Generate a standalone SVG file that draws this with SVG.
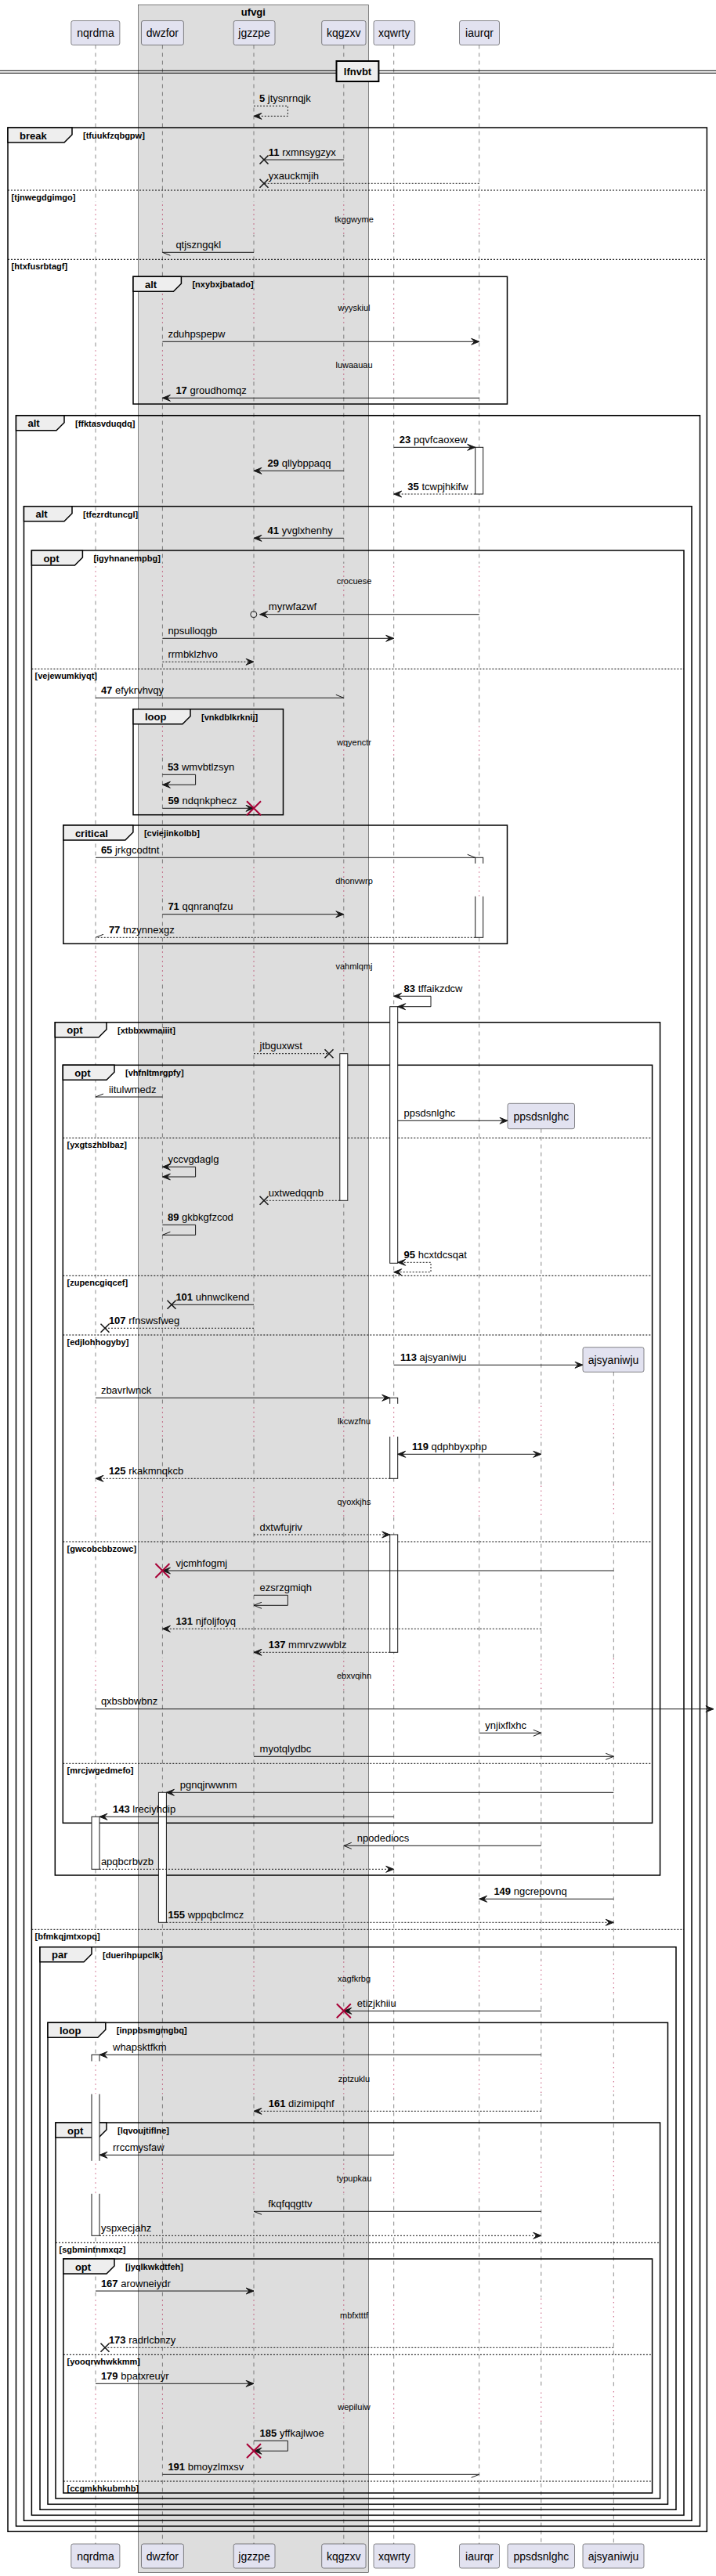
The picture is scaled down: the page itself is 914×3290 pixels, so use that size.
<svg xmlns="http://www.w3.org/2000/svg" xmlns:xlink="http://www.w3.org/1999/xlink" width="914" height="3290" viewBox="0 0 914 3290">
<style>
text{font-family:"Liberation Sans",Arial,sans-serif;fill:#000}
.p{font-size:14px;text-anchor:middle}
.t{font-size:13px}
.t tspan{font-weight:bold}
.dl{font-size:11px;text-anchor:middle}
.tl{font-size:13px;font-weight:bold}
.tc{font-size:11px;font-weight:bold}
.box{fill:#E2E2F0;stroke:#181818;stroke-width:0.5}
.ll{stroke:#181818;stroke-width:0.5;stroke-dasharray:5,5}
.lld{stroke:#A80036;stroke-width:1;stroke-dasharray:1,5}
.fr{fill:none;stroke:#000;stroke-width:1.5}
.tab{fill:#EEEEEE;stroke:#000;stroke-width:1.5}
.el{stroke:#000;stroke-width:1;stroke-dasharray:2,2}
.act{fill:#fff;stroke:#181818;stroke-width:1}
.s{fill:none;stroke:#181818;stroke-width:1}
.d{stroke-dasharray:2,2}
.x{stroke:#181818;stroke-width:1.6}
.rx{stroke:#A80036;stroke-width:2}
</style>
<defs>
<g id="bands">
<rect x="0" y="257.8" width="914" height="42"/>
<rect x="0" y="370.8" width="914" height="42"/>
<rect x="0" y="443.5" width="914" height="42"/>
<rect x="0" y="719.8" width="914" height="42"/>
<rect x="0" y="925.2" width="914" height="42"/>
<rect x="0" y="1102.8" width="914" height="42"/>
<rect x="0" y="1211.8" width="914" height="42"/>
<rect x="0" y="1792.8" width="914" height="42"/>
<rect x="0" y="1895.8" width="914" height="42"/>
<rect x="0" y="2117.8" width="914" height="42"/>
<rect x="0" y="2504.2" width="914" height="42"/>
<rect x="0" y="2632.5" width="914" height="42"/>
<rect x="0" y="2759.8" width="914" height="42"/>
<rect x="0" y="2934.2" width="914" height="42"/>
<rect x="0" y="3051.5" width="914" height="42"/>
</g>
<mask id="mN" maskUnits="userSpaceOnUse" x="0" y="0" width="914" height="3290">
<rect x="0" y="0" width="914" height="3290" fill="#fff"/>
<use xlink:href="#bands" href="#bands" fill="#000"/>
</mask>
<mask id="mD" maskUnits="userSpaceOnUse" x="0" y="0" width="914" height="3290">
<use xlink:href="#bands" href="#bands" fill="#fff"/>
</mask>
<marker id="aR" markerUnits="userSpaceOnUse" markerWidth="12" markerHeight="10" refX="10" refY="5" overflow="visible"><path d="M0,1 L10,5 L0,9 L4,5 Z" fill="#181818" stroke="#181818" stroke-width="1" stroke-dasharray="none"/></marker>
<marker id="aL" markerUnits="userSpaceOnUse" markerWidth="12" markerHeight="10" refX="0" refY="5" overflow="visible"><path d="M10,1 L0,5 L10,9 L6,5 Z" fill="#181818" stroke="#181818" stroke-width="1" stroke-dasharray="none"/></marker>
<marker id="oR" markerUnits="userSpaceOnUse" markerWidth="12" markerHeight="10" refX="10" refY="5" overflow="visible"><path d="M0,1 L10,5 L0,9" fill="none" stroke="#181818" stroke-width="1" stroke-dasharray="none"/></marker>
<marker id="oL" markerUnits="userSpaceOnUse" markerWidth="12" markerHeight="10" refX="0" refY="5" overflow="visible"><path d="M10,1 L0,5 L10,9" fill="none" stroke="#181818" stroke-width="1" stroke-dasharray="none"/></marker>
<marker id="huR" markerUnits="userSpaceOnUse" markerWidth="12" markerHeight="10" refX="10" refY="5" overflow="visible"><path d="M0,1 L10,5" fill="none" stroke="#181818" stroke-width="1" stroke-dasharray="none"/></marker>
<marker id="hlR" markerUnits="userSpaceOnUse" markerWidth="12" markerHeight="10" refX="10" refY="5" overflow="visible"><path d="M10,5 L0,9" fill="none" stroke="#181818" stroke-width="1" stroke-dasharray="none"/></marker>
<marker id="huL" markerUnits="userSpaceOnUse" markerWidth="12" markerHeight="10" refX="0" refY="5" overflow="visible"><path d="M0,5 L10,1" fill="none" stroke="#181818" stroke-width="1" stroke-dasharray="none"/></marker>
<marker id="hlL" markerUnits="userSpaceOnUse" markerWidth="12" markerHeight="10" refX="0" refY="5" overflow="visible"><path d="M0,5 L10,9" fill="none" stroke="#181818" stroke-width="1" stroke-dasharray="none"/></marker>
</defs>
<rect width="914" height="3290" fill="#fff"/>

<g id="box-ufvgi">
<rect x="176.4" y="6" width="294.1" height="3279.7" fill="#DDDDDD" stroke="#181818" stroke-width="0.5"/>
<text x="323.4" y="20" class="tl" text-anchor="middle">ufvgi</text>
</g>

<g id="lifelines">
<g mask="url(#mN)">
<line class="ll" x1="122" y1="57.5" x2="122" y2="3249"/>
<line class="ll" x1="207.4" y1="57.5" x2="207.4" y2="3249"/>
<line class="ll" x1="324" y1="57.5" x2="324" y2="3249"/>
<line class="ll" x1="438.8" y1="57.5" x2="438.8" y2="3249"/>
<line class="ll" x1="502.7" y1="57.5" x2="502.7" y2="3249"/>
<line class="ll" x1="611.7" y1="57.5" x2="611.7" y2="3249"/>
<line class="ll" x1="690.8" y1="1441.7" x2="690.8" y2="3249"/>
<line class="ll" x1="783.3" y1="1752.3" x2="783.3" y2="3249"/>
</g>
<g mask="url(#mD)">
<line class="lld" x1="122" y1="57.5" x2="122" y2="3249"/>
<line class="lld" x1="207.4" y1="57.5" x2="207.4" y2="3249"/>
<line class="lld" x1="324" y1="57.5" x2="324" y2="3249"/>
<line class="lld" x1="438.8" y1="57.5" x2="438.8" y2="3249"/>
<line class="lld" x1="502.7" y1="57.5" x2="502.7" y2="3249"/>
<line class="lld" x1="611.7" y1="57.5" x2="611.7" y2="3249"/>
<line class="lld" x1="690.8" y1="1441.7" x2="690.8" y2="3249"/>
<line class="lld" x1="783.3" y1="1752.3" x2="783.3" y2="3249"/>
</g>
</g>

<g id="p-nqrdma"><rect class="box" x="90.8" y="26.5" width="62.1" height="31" rx="2.5"/><text class="p" x="122" y="47">nqrdma</text><rect class="box" x="90.8" y="3249" width="62.1" height="31" rx="2.5"/><text class="p" x="122" y="3269.5">nqrdma</text></g>
<g id="p-dwzfor"><rect class="box" x="180.5" y="26.5" width="53.9" height="31" rx="2.5"/><text class="p" x="207.4" y="47">dwzfor</text><rect class="box" x="180.5" y="3249" width="53.9" height="31" rx="2.5"/><text class="p" x="207.4" y="3269.5">dwzfor</text></g>
<g id="p-jgzzpe"><rect class="box" x="298.2" y="26.5" width="52.8" height="31" rx="2.5"/><text class="p" x="324.6" y="47">jgzzpe</text><rect class="box" x="298.2" y="3249" width="52.8" height="31" rx="2.5"/><text class="p" x="324.6" y="3269.5">jgzzpe</text></g>
<g id="p-kqgzxv"><rect class="box" x="410.7" y="26.5" width="56.3" height="31" rx="2.5"/><text class="p" x="438.8" y="47">kqgzxv</text><rect class="box" x="410.7" y="3249" width="56.3" height="31" rx="2.5"/><text class="p" x="438.8" y="3269.5">kqgzxv</text></g>
<g id="p-xqwrty"><rect class="box" x="477" y="26.5" width="52.7" height="31" rx="2.5"/><text class="p" x="503.3" y="47">xqwrty</text><rect class="box" x="477" y="3249" width="52.7" height="31" rx="2.5"/><text class="p" x="503.3" y="3269.5">xqwrty</text></g>
<g id="p-iaurqr"><rect class="box" x="586.5" y="26.5" width="51" height="31" rx="2.5"/><text class="p" x="612" y="47">iaurqr</text><rect class="box" x="586.5" y="3249" width="51" height="31" rx="2.5"/><text class="p" x="612" y="3269.5">iaurqr</text></g>
<g id="p-ppsdsnlghc"><rect class="box" x="648" y="1409.3" width="85.5" height="32.4" rx="2.5"/><text class="p" x="690.8" y="1430.5">ppsdsnlghc</text><rect class="box" x="648" y="3249" width="85.5" height="31" rx="2.5"/><text class="p" x="690.8" y="3269.5">ppsdsnlghc</text></g>
<g id="p-ajsyaniwju"><rect class="box" x="744" y="1720.7" width="78" height="31.6" rx="2.5"/><text class="p" x="783" y="1741.5">ajsyaniwju</text><rect class="box" x="744" y="3249" width="78" height="31" rx="2.5"/><text class="p" x="783" y="3269.5">ajsyaniwju</text></g>

<g id="divider">
<line x1="0" y1="90.3" x2="914" y2="90.3" stroke="#000" stroke-width="1"/>
<line x1="0" y1="93.3" x2="914" y2="93.3" stroke="#000" stroke-width="1"/>
<rect x="429.5" y="78" width="53.9" height="26" fill="#EEEEEE" stroke="#000" stroke-width="2"/>
<text x="456.5" y="96" class="tl" text-anchor="middle">lfnvbt</text>
</g>

<g id="delays">
<text class="dl" x="452" y="284">tkggwyme</text>
<text class="dl" x="452" y="397">wyyskiul</text>
<text class="dl" x="452" y="470">luwaauau</text>
<text class="dl" x="452" y="746">crocuese</text>
<text class="dl" x="452" y="951.5">wqyenctr</text>
<text class="dl" x="452" y="1129">dhonvwrp</text>
<text class="dl" x="452" y="1238">vahmlqmj</text>
<text class="dl" x="452" y="1819">lkcwzfnu</text>
<text class="dl" x="452" y="1922">qyoxkjhs</text>
<text class="dl" x="452" y="2144">ebxvqihn</text>
<text class="dl" x="452" y="2530.5">xagfkrbg</text>
<text class="dl" x="452" y="2659">zptzuklu</text>
<text class="dl" x="452" y="2786">typupkau</text>
<text class="dl" x="452" y="2960.5">mbfxtttf</text>
<text class="dl" x="452" y="3078">wepiluiw</text>
</g>

<g id="frames">
<rect class="fr" x="10" y="163" width="892.4" height="3070.3"/>
<path class="tab" d="M10,163 H92 V172 L82,182 H10 Z"/>
<text class="tl" x="25" y="177.5">break</text><text class="tc" x="106" y="177">[tfuukfzqbgpw]</text>
<line class="el" x1="10" y1="243" x2="902.4" y2="243"/><text class="tc" x="14.6" y="255.5">[tjnwegdgimgo]</text>
<line class="el" x1="10" y1="331.3" x2="902.4" y2="331.3"/><text class="tc" x="14.6" y="343.5">[htxfusrbtagf]</text>

<rect class="fr" x="170" y="353.3" width="477.5" height="162.7"/>
<path class="tab" d="M170,353.3 H231.4 V362.3 L221.4,372.3 H170 Z"/>
<text class="tl" x="185" y="367.8">alt</text><text class="tc" x="245.4" y="367.3">[nxybxjbatado]</text>

<rect class="fr" x="20.5" y="530.7" width="873" height="2695.6"/>
<path class="tab" d="M20.5,530.7 H82 V539.7 L72,549.7 H20.5 Z"/>
<text class="tl" x="35.5" y="545.2">alt</text><text class="tc" x="96" y="544.7">[ffktasvduqdq]</text>

<rect class="fr" x="30.5" y="646.7" width="852.5" height="2572.6"/>
<path class="tab" d="M30.5,646.7 H92 V655.7 L82,665.7 H30.5 Z"/>
<text class="tl" x="45.5" y="661.2">alt</text><text class="tc" x="106" y="660.7">[tfezrdtuncgl]</text>

<rect class="fr" x="40.4" y="703" width="832.6" height="2509.3"/>
<path class="tab" d="M40.4,703 H105.4 V712 L95.4,722 H40.4 Z"/>
<text class="tl" x="55.4" y="717.5">opt</text><text class="tc" x="119.4" y="717">[igyhnanempbg]</text>
<line class="el" x1="40.4" y1="854.3" x2="873" y2="854.3"/><text class="tc" x="44.5" y="866.8">[vejewumkiyqt]</text>
<line class="el" x1="40.4" y1="2464.3" x2="873" y2="2464.3"/><text class="tc" x="44.5" y="2476.8">[bfmkqjmtxopq]</text>

<rect class="fr" x="170" y="905.7" width="191.5" height="135"/>
<path class="tab" d="M170,905.7 H243 V914.7 L233,924.7 H170 Z"/>
<text class="tl" x="185" y="920.2">loop</text><text class="tc" x="257" y="919.7">[vnkdblkrknij]</text>

<rect class="fr" x="80.9" y="1054" width="566.6" height="151.3"/>
<path class="tab" d="M80.9,1054 H169.9 V1063 L159.9,1073 H80.9 Z"/>
<text class="tl" x="95.9" y="1068.5">critical</text><text class="tc" x="183.9" y="1068">[cviejinkolbb]</text>

<rect class="fr" x="70.3" y="1305.7" width="772.3" height="1089.3"/>
<path class="tab" d="M70.3,1305.7 H136 V1314.7 L126,1324.7 H70.3 Z"/>
<text class="tl" x="85.3" y="1320.2">opt</text><text class="tc" x="150" y="1319.7">[xtbbxwmaiiit]</text>

<rect class="fr" x="80.3" y="1360.3" width="752.3" height="968"/>
<path class="tab" d="M80.3,1360.3 H146 V1369.3 L136,1379.3 H80.3 Z"/>
<text class="tl" x="95.3" y="1374.8">opt</text><text class="tc" x="160" y="1374.3">[vhfnltmrgpfy]</text>
<line class="el" x1="80.3" y1="1453.3" x2="832.6" y2="1453.3"/><text class="tc" x="85.5" y="1465.8">[yxgtszhblbaz]</text>
<line class="el" x1="80.3" y1="1629.3" x2="832.6" y2="1629.3"/><text class="tc" x="85.5" y="1641.8">[zupencgiqcef]</text>
<line class="el" x1="80.3" y1="1705" x2="832.6" y2="1705"/><text class="tc" x="85.5" y="1717.5">[edjlohhogyby]</text>
<line class="el" x1="80.3" y1="1969" x2="832.6" y2="1969"/><text class="tc" x="85.5" y="1981.5">[gwcobcbbzowc]</text>
<line class="el" x1="80.3" y1="2252.3" x2="832.6" y2="2252.3"/><text class="tc" x="85.5" y="2264.8">[mrcjwgedmefo]</text>

<rect class="fr" x="51" y="2486.7" width="812" height="718.6"/>
<path class="tab" d="M51,2486.7 H117 V2495.7 L107,2505.7 H51 Z"/>
<text class="tl" x="66" y="2501.2">par</text><text class="tc" x="131" y="2500.7">[duerihpupclk]</text>

<rect class="fr" x="61" y="2583.3" width="791.5" height="615"/>
<path class="tab" d="M61,2583.3 H134.8 V2592.3 L124.8,2602.3 H61 Z"/>
<text class="tl" x="76" y="2597.8">loop</text><text class="tc" x="148.8" y="2597.3">[inppbsmgmgbq]</text>

<rect class="fr" x="71" y="2711" width="771.6" height="480"/>
<path class="tab" d="M71,2711 H136 V2720 L126,2730 H71 Z"/>
<text class="tl" x="86" y="2725.5">opt</text><text class="tc" x="150" y="2725">[lqvoujtiflne]</text>
<line class="el" x1="71" y1="2864.3" x2="842.6" y2="2864.3"/><text class="tc" x="75.6" y="2876.8">[sgbmintnmxqz]</text>

<rect class="fr" x="80.9" y="2885" width="751.7" height="299"/>
<path class="tab" d="M80.9,2885 H146 V2894 L136,2904 H80.9 Z"/>
<text class="tl" x="95.9" y="2899.5">opt</text><text class="tc" x="160" y="2899">[jyqlkwkdtfeh]</text>
<line class="el" x1="80.9" y1="3007.3" x2="832.6" y2="3007.3"/><text class="tc" x="85.5" y="3019.8">[yooqrwhwkkmm]</text>
<line class="el" x1="80.9" y1="3169" x2="832.6" y2="3169"/><text class="tc" x="85.5" y="3181.5">[ccgmkhkubmhb]</text>
</g>

<g id="activations" mask="url(#mN)">
<rect class="act" x="606.7" y="571.3" width="10" height="59.7"/>
<rect class="act" x="606.7" y="1095.3" width="10" height="102"/>
<rect class="act" x="497.7" y="1285.7" width="10" height="327.6"/>
<rect class="act" x="433.8" y="1345.7" width="10" height="187.6"/>
<rect class="act" x="497.7" y="1785.3" width="10" height="103"/>
<rect class="act" x="497.7" y="1960" width="10" height="150.3"/>
<rect class="act" x="202.4" y="2289.3" width="10" height="166"/>
<rect class="act" x="117" y="2320.3" width="10" height="67"/>
<rect class="act" x="117" y="2624.3" width="10" height="231"/>
</g>

<g id="connectors">
<path class="s d" d="M324,135.3 H367.4 V148.3 H324" marker-end="url(#aL)"/>
<text class="t" x="331" y="129.8"><tspan>5</tspan> jtysnrnqjk</text>

<line class="s" x1="438.8" y1="204" x2="337" y2="204"/>
<path class="x" d="M331.5,198.5 L342.5,209.5 M342.5,198.5 L331.5,209.5"/>
<text class="t" x="342.8" y="198.5"><tspan>11</tspan> rxmnsygzyx</text>

<line class="s d" x1="611.7" y1="234.3" x2="337" y2="234.3"/>
<path class="x" d="M331.5,228.8 L342.5,239.8 M342.5,228.8 L331.5,239.8"/>
<text class="t" x="342.8" y="228.8">yxauckmjih</text>

<line class="s" x1="324" y1="322.3" x2="207.4" y2="322.3" marker-end="url(#hlL)"/>
<text class="t" x="224.4" y="316.8">qtjszngqkl</text>

<line class="s" x1="207.4" y1="436.3" x2="611.7" y2="436.3" marker-end="url(#aR)"/>
<text class="t" x="214.4" y="430.8">zduhpspepw</text>

<line class="s" x1="611.7" y1="508.3" x2="207.4" y2="508.3" marker-end="url(#aL)"/>
<text class="t" x="224.4" y="502.8"><tspan>17</tspan> groudhomqz</text>

<line class="s" x1="502.7" y1="571.3" x2="606.7" y2="571.3" marker-end="url(#aR)"/>
<text class="t" x="509.8" y="565.8"><tspan>23</tspan> pqvfcaoxew</text>

<line class="s" x1="438.8" y1="601.3" x2="324" y2="601.3" marker-end="url(#aL)"/>
<text class="t" x="341.6" y="595.8"><tspan>29</tspan> qllybppaqq</text>

<line class="s d" x1="606.7" y1="631" x2="502.7" y2="631" marker-end="url(#aL)"/>
<text class="t" x="520.3" y="625.5"><tspan>35</tspan> tcwpjhkifw</text>

<line class="s" x1="438.8" y1="687.3" x2="324" y2="687.3" marker-end="url(#aL)"/>
<text class="t" x="341.6" y="681.8"><tspan>41</tspan> yvglxhenhy</text>

<line class="s" x1="611.7" y1="784.7" x2="331.6" y2="784.7" marker-end="url(#aL)"/>
<circle cx="323.8" cy="784.7" r="4" fill="none" stroke="#181818" stroke-width="1"/>
<text class="t" x="342.8" y="779.2">myrwfazwf</text>

<line class="s" x1="207.4" y1="815.3" x2="502.7" y2="815.3" marker-end="url(#aR)"/>
<text class="t" x="214.4" y="809.8">npsulloqgb</text>

<line class="s d" x1="207.4" y1="845.3" x2="324" y2="845.3" marker-end="url(#aR)"/>
<text class="t" x="214.4" y="839.8">rrmbklzhvo</text>

<line class="s" x1="122" y1="891.3" x2="438.8" y2="891.3" marker-end="url(#huR)"/>
<text class="t" x="128.9" y="885.8"><tspan>47</tspan> efykrvhvqy</text>

<path class="s" d="M207.4,989.3 H249.6 V1002.3 H207.4" marker-end="url(#aL)"/>
<text class="t" x="213.9" y="983.8"><tspan>53</tspan> wmvbtlzsyn</text>

<line class="s" x1="207.4" y1="1032.3" x2="324" y2="1032.3" marker-end="url(#aR)"/>
<path class="rx" d="M315,1023.3 L333,1041.3 M333,1023.3 L315,1041.3"/>
<text class="t" x="214.4" y="1026.8"><tspan>59</tspan> ndqnkphecz</text>

<line class="s" x1="122" y1="1095.3" x2="606.7" y2="1095.3" marker-end="url(#huR)"/>
<text class="t" x="128.9" y="1089.8"><tspan>65</tspan> jrkgcodtnt</text>

<line class="s" x1="207.4" y1="1167.7" x2="438.8" y2="1167.7" marker-end="url(#aR)"/>
<text class="t" x="214.4" y="1162.2"><tspan>71</tspan> qqnranqfzu</text>

<line class="s d" x1="606.7" y1="1197.3" x2="122" y2="1197.3" marker-end="url(#huL)"/>
<text class="t" x="138.9" y="1191.8"><tspan>77</tspan> tnzynnexgz</text>

<path class="s" d="M502.7,1272.3 H550 V1285.7 H507.7" marker-start="url(#aL)" marker-end="url(#aL)"/>
<text class="t" x="515.6" y="1266.8"><tspan>83</tspan> tffaikzdcw</text>

<line class="s d" x1="324" y1="1345.7" x2="420" y2="1345.7"/>
<path class="x" d="M414.5,1340.2 L425.5,1351.2 M425.5,1340.2 L414.5,1351.2"/>
<text class="t" x="331.6" y="1340.2">jtbguxwst</text>

<line class="s" x1="207.4" y1="1401" x2="122" y2="1401" marker-end="url(#huL)"/>
<text class="t" x="138.9" y="1395.5">iitulwmedz</text>

<line class="s" x1="507.7" y1="1431.3" x2="648" y2="1431.3" marker-end="url(#aR)"/>
<text class="t" x="515.6" y="1425.8">ppsdsnlghc</text>

<path class="s" d="M207.4,1490.3 H249.6 V1503 H207.4" marker-start="url(#aL)" marker-end="url(#aL)"/>
<text class="t" x="214.4" y="1484.8">yccvgdaglg</text>

<line class="s d" x1="433.8" y1="1533.3" x2="337" y2="1533.3"/>
<path class="x" d="M331.5,1527.8 L342.5,1538.8 M342.5,1527.8 L331.5,1538.8"/>
<text class="t" x="342.8" y="1527.8">uxtwedqqnb</text>

<path class="s" d="M207.4,1564.3 H249.6 V1577.3 H207.4" marker-end="url(#huL)"/>
<text class="t" x="214" y="1558.8"><tspan>89</tspan> gkbkgfzcod</text>

<path class="s d" d="M507.7,1612.3 H550 V1624.7 H502.7" marker-start="url(#aL)" marker-end="url(#aL)"/>
<text class="t" x="515.6" y="1606.8"><tspan>95</tspan> hcxtdcsqat</text>

<line class="s" x1="324" y1="1666.3" x2="219" y2="1666.3"/>
<path class="x" d="M213.5,1660.8 L224.5,1671.8 M224.5,1660.8 L213.5,1671.8"/>
<text class="t" x="224.4" y="1660.8"><tspan>101</tspan> uhnwclkend</text>

<line class="s d" x1="324" y1="1696.3" x2="134" y2="1696.3"/>
<path class="x" d="M128.5,1690.8 L139.5,1701.8 M139.5,1690.8 L128.5,1701.8"/>
<text class="t" x="138.9" y="1690.8"><tspan>107</tspan> rfnswsfweg</text>

<line class="s" x1="502.7" y1="1743.3" x2="744" y2="1743.3" marker-end="url(#aR)"/>
<text class="t" x="511" y="1737.8"><tspan>113</tspan> ajsyaniwju</text>

<line class="s" x1="122" y1="1785.3" x2="497.7" y2="1785.3" marker-end="url(#aR)"/>
<text class="t" x="128.9" y="1779.8">zbavrlwnck</text>

<line class="s" x1="507.7" y1="1857.3" x2="690.8" y2="1857.3" marker-start="url(#aL)" marker-end="url(#aR)"/>
<text class="t" x="526" y="1851.8"><tspan>119</tspan> qdphbyxphp</text>

<line class="s d" x1="497.7" y1="1888.3" x2="122" y2="1888.3" marker-end="url(#aL)"/>
<text class="t" x="138.9" y="1882.8"><tspan>125</tspan> rkakmnqkcb</text>

<line class="s d" x1="324" y1="1960" x2="497.7" y2="1960" marker-end="url(#aR)"/>
<text class="t" x="331.6" y="1954.5">dxtwfujriv</text>

<line class="s" x1="783.3" y1="2006" x2="207.4" y2="2006" marker-end="url(#aL)"/>
<path class="rx" d="M198.4,1997 L216.4,2015 M216.4,1997 L198.4,2015"/>
<text class="t" x="224.4" y="2000.5">vjcmhfogmj</text>

<path class="s" d="M324,2037.3 H367.4 V2050.3 H324" marker-end="url(#oL)"/>
<text class="t" x="331.6" y="2031.8">ezsrzgmiqh</text>

<line class="s d" x1="690.8" y1="2080.3" x2="207.4" y2="2080.3" marker-end="url(#aL)"/>
<text class="t" x="224.4" y="2074.8"><tspan>131</tspan> njfoljfoyq</text>

<line class="s d" x1="497.7" y1="2110.3" x2="324" y2="2110.3" marker-end="url(#aL)"/>
<text class="t" x="342.8" y="2104.8"><tspan>137</tspan> mmrvzwwblz</text>

<line class="s" x1="122" y1="2182.7" x2="911" y2="2182.7" marker-end="url(#aR)"/>
<text class="t" x="128.9" y="2177.2">qxbsbbwbnz</text>

<line class="s" x1="611.7" y1="2213.3" x2="690.8" y2="2213.3" marker-end="url(#oR)"/>
<text class="t" x="619.3" y="2207.8">ynjixflxhc</text>

<line class="s" x1="324" y1="2243.3" x2="783.3" y2="2243.3" marker-end="url(#oR)"/>
<text class="t" x="331.6" y="2237.8">myotqlydbc</text>

<line class="s" x1="783.3" y1="2289.3" x2="212.4" y2="2289.3" marker-end="url(#aL)"/>
<text class="t" x="229.7" y="2283.8">pgnqjrwwnm</text>

<line class="s" x1="502.7" y1="2320.3" x2="127" y2="2320.3" marker-end="url(#aL)"/>
<text class="t" x="144" y="2314.8"><tspan>143</tspan> lreciyhdip</text>

<line class="s" x1="690.8" y1="2357.3" x2="438.8" y2="2357.3" marker-end="url(#oL)"/>
<text class="t" x="455.8" y="2351.8">npodediocs</text>

<line class="s d" x1="127" y1="2387.3" x2="502.7" y2="2387.3" marker-end="url(#aR)"/>
<text class="t" x="128.9" y="2381.8">apqbcrbvzb</text>

<line class="s" x1="783.3" y1="2425.3" x2="611.7" y2="2425.3" marker-end="url(#aL)"/>
<text class="t" x="630.4" y="2419.8"><tspan>149</tspan> ngcrepovnq</text>

<line class="s d" x1="212.4" y1="2455.3" x2="783.3" y2="2455.3" marker-end="url(#aR)"/>
<text class="t" x="214.4" y="2449.8"><tspan>155</tspan> wppqbclmcz</text>

<line class="s" x1="690.8" y1="2568.3" x2="438.8" y2="2568.3" marker-end="url(#aL)"/>
<path class="rx" d="M429.8,2559.3 L447.8,2577.3 M447.8,2559.3 L429.8,2577.3"/>
<text class="t" x="455.8" y="2562.8">etizjkhiiu</text>

<line class="s" x1="690.8" y1="2624.3" x2="127" y2="2624.3" marker-end="url(#aL)"/>
<text class="t" x="144" y="2618.8">whapsktfkm</text>

<line class="s d" x1="690.8" y1="2696.3" x2="324" y2="2696.3" marker-end="url(#aL)"/>
<text class="t" x="342.8" y="2690.8"><tspan>161</tspan> dizimipqhf</text>

<line class="s" x1="502.7" y1="2752.3" x2="127" y2="2752.3" marker-end="url(#aL)"/>
<text class="t" x="144" y="2746.8">rrccmysfaw</text>

<line class="s" x1="690.8" y1="2824.3" x2="324" y2="2824.3" marker-end="url(#hlL)"/>
<text class="t" x="342.2" y="2818.8">fkqfqqgttv</text>

<line class="s d" x1="127" y1="2855.3" x2="690.8" y2="2855.3" marker-end="url(#aR)"/>
<text class="t" x="128.9" y="2849.8">yspxecjahz</text>

<line class="s" x1="122" y1="2926" x2="324" y2="2926" marker-end="url(#aR)"/>
<text class="t" x="128.9" y="2920.5"><tspan>167</tspan> arowneiydr</text>

<line class="s d" x1="783.3" y1="2998.3" x2="134" y2="2998.3"/>
<path class="x" d="M128.5,2992.8 L139.5,3003.8 M139.5,2992.8 L128.5,3003.8"/>
<text class="t" x="138.9" y="2992.8"><tspan>173</tspan> radrlcbnzy</text>

<line class="s" x1="122" y1="3044.3" x2="324" y2="3044.3" marker-end="url(#aR)"/>
<text class="t" x="128.9" y="3038.8"><tspan>179</tspan> bpatxreuyr</text>

<path class="s" d="M324,3117.3 H367.4 V3130.3 H324" marker-end="url(#aL)"/>
<path class="rx" d="M315,3121.3 L333,3139.3 M333,3121.3 L315,3139.3"/>
<text class="t" x="331.6" y="3111.8"><tspan>185</tspan> yffkajlwoe</text>

<line class="s" x1="207.4" y1="3160.3" x2="611.7" y2="3160.3" marker-end="url(#hlR)"/>
<text class="t" x="214.4" y="3154.8"><tspan>191</tspan> bmoyzlmxsv</text>
</g>
</svg>
